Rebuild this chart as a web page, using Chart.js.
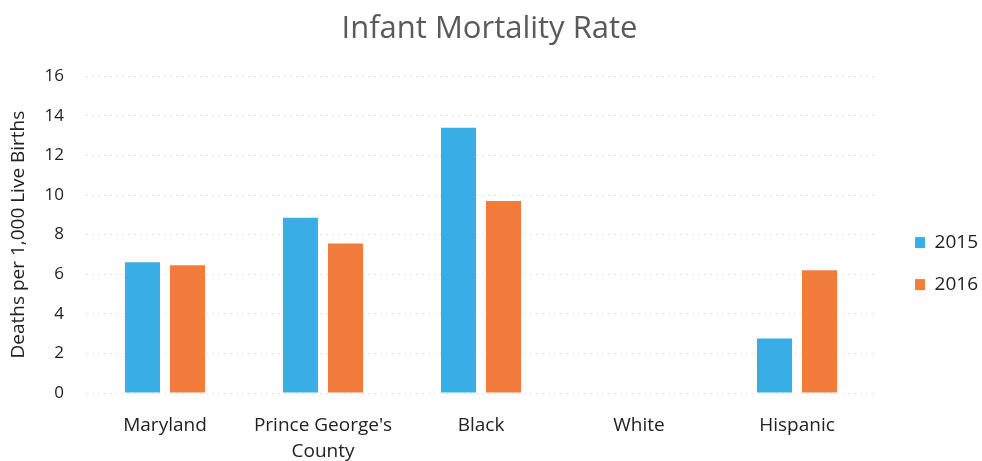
<!DOCTYPE html>
<html><head><meta charset="utf-8">
<script src="https://cdn.jsdelivr.net/npm/chart.js@4/dist/chart.umd.min.js"></script>
<style>html,body{margin:0;padding:0;background:#fff}#wrap{width:982px;height:461px}</style>
</head><body><div id="wrap"><canvas id="c" width="982" height="461"></canvas></div>
<script>
const categories = ["Maryland", ["Prince George's", "County"], "Black", "White", "Hispanic"];
const series2015 = [6.6, 8.85, 13.4, null, 2.75];
const series2016 = [6.45, 7.55, 9.7, null, 6.2];
const seriesNames = ["2015", "2016"];
const yTicks = [0, 2, 4, 6, 8, 10, 12, 14, 16];

const FONT = "'Open Sans', sans-serif";
const shiftLegend = {
  id: 'shiftLegend',
  afterLayout(chart) {
    const l = chart.legend;
    if (l) { l.left += 16; l.right += 16; }
  }
};
new Chart(document.getElementById('c'), {
  type: 'bar',
  data: {
    labels: categories,
    datasets: [
      {label: seriesNames[0], data: series2015, backgroundColor: '#38ADE6', borderWidth: 0},
      {label: seriesNames[1], data: series2016, backgroundColor: '#F17C3D', borderWidth: 0}
    ]
  },
  plugins: [shiftLegend],
  options: {
    responsive: false,
    animation: false,
    devicePixelRatio: 1,
    layout: {padding: {left: 7, right: 10, top: 8, bottom: 0}},
    datasets: {bar: {categoryPercentage: 0.57, barPercentage: 0.78}},
    plugins: {
      title: {display: true, text: 'Infant Mortality Rate', color: '#5a5a5a',
        font: {family: FONT, size: 31, weight: 'normal'}, padding: {top: 3, bottom: 28}},
      legend: {position: 'right', align: 'center',
        title: {display: true, text: ' ', font: {size: 1}, padding: {top: 57, bottom: 0}},
        labels: {color: '#222', font: {family: FONT, size: 19}, boxWidth: 10, boxHeight: 11, padding: 23}},
      tooltip: {enabled: false}
    },
    scales: {
      x: {
        afterFit: s => { s.height = 68; },
        grid: {display: false, drawTicks: false},
        border: {display: false},
        ticks: {color: '#222', font: {family: FONT, size: 19, lineHeight: 1.4}, padding: 19, maxRotation: 0, autoSkip: false}
      },
      y: {
        min: 0, max: 16,
        afterFit: s => { s.width = 79; },
        afterBuildTicks: s => { s.ticks = yTicks.map(v => ({value: v})); },
        grid: {color: '#e2e2e2', drawTicks: false, lineWidth: 1},
        border: {display: false, dash: [2, 4]},
        ticks: {color: '#222', font: {family: FONT, size: 17}, padding: 22},
        title: {display: true, text: 'Deaths per 1,000 Live Births', color: '#222',
          font: {family: FONT, size: 19}, padding: {top: 0, bottom: 0}}
      }
    }
  }
});
</script></body></html>
